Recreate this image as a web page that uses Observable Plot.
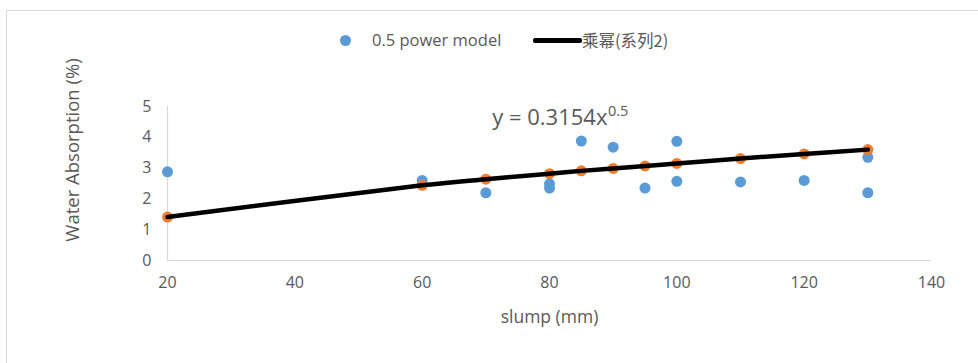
<!DOCTYPE html>
<html><head><meta charset="utf-8">
<script src="https://cdn.jsdelivr.net/npm/d3@7"></script>
<script src="https://cdn.jsdelivr.net/npm/@observablehq/plot@0.6"></script>
<style>
body{margin:0;background:#fff;}
#wrap{position:relative;width:978px;height:363px;font-family:"Open Sans","Noto Sans",sans-serif;color:#595959;overflow:hidden;}
#frame{position:absolute;left:6px;top:10px;width:990px;height:360px;border:1px solid #d9d9d9;box-sizing:border-box;}
#legend{position:absolute;top:28px;left:0;width:978px;font-size:16.5px;}
.item{position:absolute;top:0;white-space:nowrap;line-height:24px;}
.sw-dot{position:absolute;width:11px;height:11px;border-radius:50%;background:#5B9BD5;}
.sw-line{position:absolute;height:5px;background:#000;border-radius:2px;}
#chart{position:absolute;left:0;top:0;}
#ytitle{position:absolute;left:72px;top:150px;width:0;height:0;}
#ytitle span{position:absolute;left:0;top:0;white-space:nowrap;font-size:18.5px;line-height:24px;transform:translate(-50%,-50%) rotate(-90deg);}
</style></head>
<body>
<div id="wrap">
  <div id="frame"></div>
  <div id="chart"></div>
  <div id="ytitle"><span></span></div>
  <div id="legend"></div>
</div>
<script>
// Measured points (blue)
const slumpMeasured = [20, 60, 70, 80, 80, 85, 90, 95, 100, 100, 110, 120, 130, 130];
const absorptionMeasured = [2.88, 2.60, 2.20, 2.49, 2.35, 3.88, 3.68, 2.35, 3.87, 2.57, 2.55, 2.60, 3.35, 2.20];
// 0.5 power model values (orange) and trendline
const slumpModel = [20, 60, 70, 80, 85, 90, 95, 100, 110, 120, 130];
const absorptionModel = [1.41, 2.44, 2.64, 2.82, 2.91, 2.99, 3.07, 3.15, 3.31, 3.46, 3.60];
const xTicks = [20, 40, 60, 80, 100, 120, 140];
const yTicks = [0, 1, 2, 3, 4, 5];
const seriesNames = ["0.5 power model", "乘幂(系列2)"];
const axisTitles = {x: "slump (mm)", y: "Water Absorption (%)"};
const equation = [{x: 89.1, y: 4.63, text: "y = 0.3154x", sup: "0.5"}];

const measured = slumpMeasured.map((s, i) => ({x: s, y: absorptionMeasured[i]}));
const model = slumpModel.map((s, i) => ({x: s, y: absorptionModel[i]}));

const fontFam = '"Open Sans","Noto Sans",sans-serif';
const chart = Plot.plot({
  width: 978,
  height: 363,
  marginLeft: 167,
  marginRight: 47,
  marginTop: 106,
  marginBottom: 103,
  style: {fontFamily: fontFam, fontSize: "16px", color: "#595959", background: "transparent"},
  x: {domain: [20, 140]},
  y: {domain: [0, 5]},
  marks: [
    Plot.ruleY([0], {stroke: "#d9d9d9", strokeWidth: 1.2}),
    Plot.ruleX([20], {stroke: "#d9d9d9", strokeWidth: 1.2}),
    Plot.axisX({ticks: xTicks, tickFormat: d => String(d), tickSize: 0, tickPadding: 16, fontSize: 16, label: null}),
    Plot.axisX({ticks: [], label: axisTitles.x, labelAnchor: "center", labelArrow: "none", labelOffset: 62, fontSize: 17.5}),
    Plot.axisY({ticks: yTicks, tickFormat: d => String(d), tickSize: 0, tickPadding: 16, fontSize: 16, label: null}),
    Plot.dot(measured, {x: "x", y: "y", r: 5.5, fill: "#5B9BD5"}),
    Plot.dot(model, {x: "x", y: "y", r: 5.5, fill: "#ED7D31"}),
    Plot.line(model, {x: "x", y: "y", stroke: "#000", strokeWidth: 4.5, curve: "catmull-rom"}),
    Plot.text(equation, {x: "x", y: "y", text: "text", textAnchor: "end", fontSize: 22, fill: "#595959"}),
    Plot.text(equation, {x: "x", y: "y", text: "sup", textAnchor: "start", fontSize: 14.5, dy: -7, dx: 0.5, fill: "#595959"})
  ]
});
document.getElementById("chart").appendChild(chart);

document.querySelector("#ytitle span").textContent = axisTitles.y;

// Legend
const legend = document.getElementById("legend");
legend.innerHTML =
  `<div class="sw-dot" style="left:340px;top:7px"></div>` +
  `<div class="item" style="left:372px">${seriesNames[0]}</div>` +
  `<div class="sw-line" style="left:533px;top:10px;width:49px"></div>` +
  `<div class="item" style="left:582px;font-family:'Noto Sans CJK SC',sans-serif">${seriesNames[1]}</div>`;
</script>
</body></html>
